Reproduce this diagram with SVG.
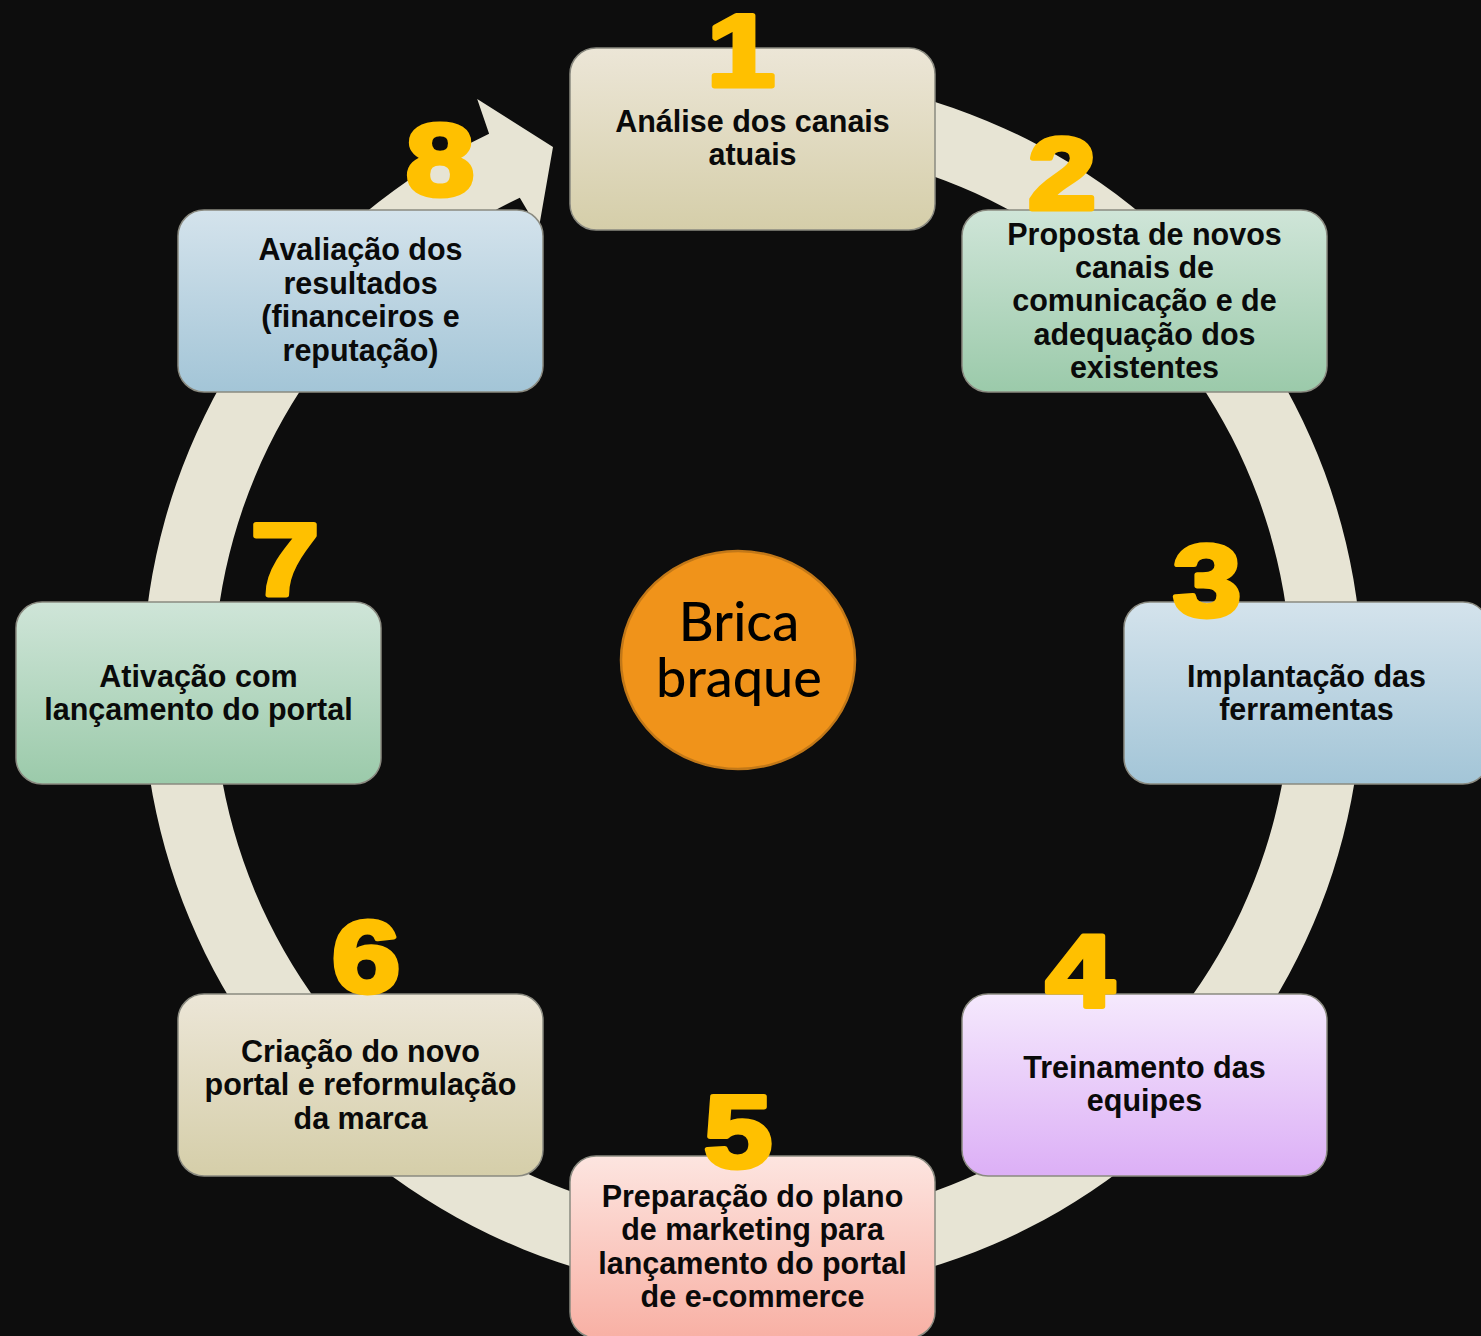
<svg xmlns="http://www.w3.org/2000/svg" width="1481" height="1336" viewBox="0 0 1481 1336">
<defs>
<linearGradient id="gBeige" x1="0" y1="0" x2="0" y2="1"><stop offset="0" stop-color="#ece6d7"/><stop offset="1" stop-color="#d5cea9"/></linearGradient>
<linearGradient id="gGreen" x1="0" y1="0" x2="0" y2="1"><stop offset="0" stop-color="#cfe5d8"/><stop offset="1" stop-color="#9bcaaa"/></linearGradient>
<linearGradient id="gBlue" x1="0" y1="0" x2="0" y2="1"><stop offset="0" stop-color="#d4e3ec"/><stop offset="1" stop-color="#a3c5d7"/></linearGradient>
<linearGradient id="gPurple" x1="0" y1="0" x2="0" y2="1"><stop offset="0" stop-color="#f5e9fd"/><stop offset="1" stop-color="#dcaff6"/></linearGradient>
<linearGradient id="gPink" x1="0" y1="0" x2="0" y2="1"><stop offset="0" stop-color="#fde5e0"/><stop offset="1" stop-color="#f8b0a4"/></linearGradient>
<style>
.box{stroke:#8a8a80;stroke-width:1.5}
.lbl{font-family:"Liberation Sans",Arial,sans-serif;font-weight:bold;font-size:30.5px;fill:#0a0a0a;text-anchor:middle}
.num{font-family:"Liberation Sans",Arial,sans-serif;font-weight:bold;font-size:102px;fill:#ffc000;stroke:#ffc000;stroke-width:5;stroke-linejoin:round;text-anchor:middle}
.ctr{font-family:Lato,"Open Sans",sans-serif;font-weight:500;font-size:54px;fill:#000;text-anchor:middle}
</style>
</defs>
<rect width="1481" height="1336" fill="#0d0d0d"/>
<g id="connectors">
<path id="cycle-arrow" fill="#e7e4d4" d="M 752.5 74 A 610 610 0 1 1 489.1 133.8 L 477.2 99 L 553 147 L 538.6 229.4 L 519.8 197.8 A 539 539 0 1 0 752.5 145 Z"/>
</g>
<g id="center">
<ellipse cx="738" cy="660" rx="117" ry="109" fill="#f0931a" stroke="#c27818" stroke-width="2.5"/>
<text class="ctr" x="739" y="641">Brica</text>
<text class="ctr" x="739" y="697">braque</text>
</g>
<g id="node1">
<rect class="box" x="570" y="48" width="365" height="182" rx="26" fill="url(#gBeige)"/>
<text class="lbl" x="752.5" y="132">Análise dos canais</text>
<text class="lbl" x="752.5" y="165">atuais</text>
</g>
<g id="node2">
<rect class="box" x="962" y="210" width="365" height="182" rx="26" fill="url(#gGreen)"/>
<text class="lbl" x="1144.5" y="245">Proposta de novos</text>
<text class="lbl" x="1144.5" y="278">canais de</text>
<text class="lbl" x="1144.5" y="311">comunicação e de</text>
<text class="lbl" x="1144.5" y="345">adequação dos</text>
<text class="lbl" x="1144.5" y="378">existentes</text>
</g>
<g id="node3">
<rect class="box" x="1124" y="602" width="365" height="182" rx="26" fill="url(#gBlue)"/>
<text class="lbl" x="1306.5" y="687">Implantação das</text>
<text class="lbl" x="1306.5" y="720">ferramentas</text>
</g>
<g id="node4">
<rect class="box" x="962" y="994" width="365" height="182" rx="26" fill="url(#gPurple)"/>
<text class="lbl" x="1144.5" y="1078">Treinamento das</text>
<text class="lbl" x="1144.5" y="1111">equipes</text>
</g>
<g id="node5">
<rect class="box" x="570" y="1156" width="365" height="182" rx="26" fill="url(#gPink)"/>
<text class="lbl" x="752.5" y="1207">Preparação do plano</text>
<text class="lbl" x="752.5" y="1240">de marketing para</text>
<text class="lbl" x="752.5" y="1274">lançamento do portal</text>
<text class="lbl" x="752.5" y="1307">de e-commerce</text>
</g>
<g id="node6">
<rect class="box" x="178" y="994" width="365" height="182" rx="26" fill="url(#gBeige)"/>
<text class="lbl" x="360.5" y="1062">Criação do novo</text>
<text class="lbl" x="360.5" y="1095">portal e reformulação</text>
<text class="lbl" x="360.5" y="1129">da marca</text>
</g>
<g id="node7">
<rect class="box" x="16" y="602" width="365" height="182" rx="26" fill="url(#gGreen)"/>
<text class="lbl" x="198.5" y="687">Ativação com</text>
<text class="lbl" x="198.5" y="720">lançamento do portal</text>
</g>
<g id="node8">
<rect class="box" x="178" y="210" width="365" height="182" rx="26" fill="url(#gBlue)"/>
<text class="lbl" x="360.5" y="260">Avaliação dos</text>
<text class="lbl" x="360.5" y="294">resultados</text>
<text class="lbl" x="360.5" y="327">(financeiros e</text>
<text class="lbl" x="360.5" y="361">reputação)</text>
</g>
<g id="numbers">
<text class="num" transform="translate(741,86) scale(1.2,1)">1</text>
<text class="num" transform="translate(1062,209) scale(1.2,1)">2</text>
<text class="num" transform="translate(1207,616) scale(1.2,1)">3</text>
<text class="num" transform="translate(1080,1006) scale(1.2,1)">4</text>
<text class="num" transform="translate(738,1167) scale(1.2,1)">5</text>
<text class="num" transform="translate(366,992) scale(1.2,1)">6</text>
<text class="num" transform="translate(285,595) scale(1.2,1)">7</text>
<text class="num" transform="translate(440,195) scale(1.2,1)">8</text>
</g>
</svg>
